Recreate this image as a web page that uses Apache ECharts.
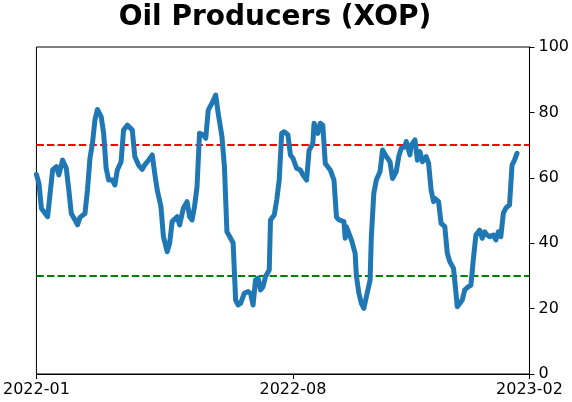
<!DOCTYPE html>
<html>
<head>
<meta charset="utf-8">
<script src="https://cdn.jsdelivr.net/npm/echarts@6/dist/echarts.min.js"></script>
<style>
  html, body { margin: 0; padding: 0; background: #fff; }
  #chart { width: 572px; height: 402px; }
</style>
</head>
<body>
<div id="chart"></div>
<script>
// axis range and the three labelled dates
const axisStart = '2022-01-14'
const axisEnd = '2023-02-14'
const tickDates = ['2022-01-14', '2022-08-08', '2023-02-14']
const yTicks = [0, 20, 40, 60, 80, 100]
const upperBand = 70
const lowerBand = 30

const dates = [
  '2022-01-14', '2022-01-16', '2022-01-18', '2022-01-20', '2022-01-23', '2022-01-25', '2022-01-27', '2022-01-30',
  '2022-02-01', '2022-02-04', '2022-02-07', '2022-02-09', '2022-02-11', '2022-02-14', '2022-02-16', '2022-02-18',
  '2022-02-22', '2022-02-24', '2022-02-26', '2022-02-28', '2022-03-02', '2022-03-04', '2022-03-07', '2022-03-09',
  '2022-03-11', '2022-03-13', '2022-03-16', '2022-03-18', '2022-03-20', '2022-03-23', '2022-03-25', '2022-03-28',
  '2022-04-01', '2022-04-03', '2022-04-06', '2022-04-09', '2022-04-11', '2022-04-14', '2022-04-17', '2022-04-19',
  '2022-04-21', '2022-04-24', '2022-04-26', '2022-04-29', '2022-05-01', '2022-05-03', '2022-05-07', '2022-05-09',
  '2022-05-12', '2022-05-15', '2022-05-17', '2022-05-19', '2022-05-21', '2022-05-23', '2022-05-25', '2022-05-28',
  '2022-05-30', '2022-06-01', '2022-06-04', '2022-06-07', '2022-06-09', '2022-06-12', '2022-06-14', '2022-06-16',
  '2022-06-19', '2022-06-21', '2022-06-23', '2022-06-25', '2022-06-27', '2022-06-30', '2022-07-03', '2022-07-05',
  '2022-07-07', '2022-07-09', '2022-07-11', '2022-07-13', '2022-07-15', '2022-07-17', '2022-07-20', '2022-07-21',
  '2022-07-24', '2022-07-26', '2022-07-28', '2022-07-30', '2022-08-01', '2022-08-04', '2022-08-06', '2022-08-08',
  '2022-08-11', '2022-08-14', '2022-08-16', '2022-08-19', '2022-08-21', '2022-08-24', '2022-08-25', '2022-08-28',
  '2022-08-30', '2022-09-01', '2022-09-03', '2022-09-07', '2022-09-10', '2022-09-12', '2022-09-14', '2022-09-18',
  '2022-09-19', '2022-09-20', '2022-09-24', '2022-09-27', '2022-09-28', '2022-09-30', '2022-10-02', '2022-10-04',
  '2022-10-06', '2022-10-09', '2022-10-10', '2022-10-12', '2022-10-14', '2022-10-17', '2022-10-19', '2022-10-22',
  '2022-10-25', '2022-10-27', '2022-10-30', '2022-11-01', '2022-11-03', '2022-11-06', '2022-11-07', '2022-11-10',
  '2022-11-11', '2022-11-14', '2022-11-16', '2022-11-18', '2022-11-20', '2022-11-23', '2022-11-25', '2022-11-27',
  '2022-11-29', '2022-11-30', '2022-12-03', '2022-12-05', '2022-12-08', '2022-12-10', '2022-12-12', '2022-12-15',
  '2022-12-17', '2022-12-18', '2022-12-20', '2022-12-22', '2022-12-24', '2022-12-27', '2022-12-29', '2022-12-31',
  '2023-01-02', '2023-01-05', '2023-01-07', '2023-01-09', '2023-01-11', '2023-01-13', '2023-01-16', '2023-01-18',
  '2023-01-20', '2023-01-22', '2023-01-24', '2023-01-26', '2023-01-29', '2023-01-31', '2023-02-02', '2023-02-04'
]

const values = [
  61, 58.3, 50.7, 49.6, 48.1, 55.2, 62.4, 63.4,
  60.9, 65.4, 62.9, 56.3, 49.1, 47.1, 45.6, 47.9,
  49.1, 56.3, 66, 70.5, 77.7, 80.9, 78.7, 73.6,
  62.9, 59.3, 59.3, 57.8, 62.4, 64.9, 74.6, 76.1,
  74.6, 66.5, 63.9, 62.6, 63.9, 65.4, 67, 61.4,
  56.3, 51.2, 42, 37.4, 40, 46.6, 48.1, 45.6,
  50.7, 52.7, 48.1, 47.1, 51.2, 57.3, 73.6, 73.1,
  72.1, 80.7, 82.8, 85.3, 79.7, 72.6, 63.4, 43.5,
  41.5, 40, 22.6, 21.1, 21.6, 24.7, 25.2, 24.7,
  21.1, 28.8, 29.3, 25.7, 26.7, 29.8, 31.8, 47.1,
  48.6, 53.2, 59.3, 73.6, 74.1, 73.1, 67, 66,
  62.9, 62.4, 60.9, 59.3, 68.4, 70.5, 76.7, 73.6,
  76.7, 76.1, 64.4, 62.4, 59.3, 48, 47.1, 46.6,
  41.5, 45, 41, 36.9, 30, 24.7, 21.6, 20.1,
  23.6, 28.7, 42, 55.3, 59.3, 61.9, 68.5, 66.5,
  64.9, 59.8, 61.9, 66.5, 69, 69.5, 71.1, 67,
  70, 71.6, 65.4, 68, 64.9, 66.5, 64.4, 56.3,
  52.7, 53.7, 52.7, 46.1, 45.1, 36.9, 34.4, 32.3,
  24.7, 20.6, 21.6, 22.6, 25.7, 26.7, 27.2, 35.4,
  42.5, 44, 41.5, 43.5, 42.5, 42, 42.5, 41,
  43.5, 42, 49.1, 50.7, 51.7, 63.9, 65.4, 67.5
]

function toTime(s) {
  const p = s.split('-').map(Number)
  return new Date(p[0], p[1] - 1, p[2]).getTime()
}

function monthLabel(v) {
  const d = new Date(v)
  const m = d.getMonth() + 1
  return d.getFullYear() + '-' + (m < 10 ? '0' + m : m)
}

const font = 'DejaVu Sans'
const chart = echarts.init(document.getElementById('chart'))
const tickTimes = tickDates.map(toTime)

chart.setOption({
  animation: false,
  title: {
    text: 'Oil Producers (XOP)',
    left: 270,
    textAlign: 'center',
    top: -1,
    textStyle: { fontFamily: font, fontWeight: 'bold', fontSize: 28, color: '#000' }
  },
  grid: {
    left: 35.5, right: 40, top: 47, bottom: 28,
    show: true, borderColor: '#000', borderWidth: 1, backgroundColor: 'transparent'
  },
  xAxis: {
    type: 'value',
    min: toTime(axisStart),
    max: toTime(axisEnd),
    splitLine: { show: false },
    axisLine: { lineStyle: { color: '#000', width: 1 } },
    axisTick: {
      show: true, length: 5, lineStyle: { color: '#000' },
      customValues: tickTimes
    },
    axisLabel: {
      customValues: tickTimes,
      formatter: monthLabel,
      fontFamily: font, fontSize: 16, color: '#000', margin: 8,
      showMinLabel: true, showMaxLabel: true, hideOverlap: false
    }
  },
  yAxis: {
    type: 'value',
    position: 'right',
    min: yTicks[0],
    max: yTicks[yTicks.length - 1],
    interval: 20,
    splitLine: { show: false },
    axisLine: { show: true, lineStyle: { color: '#000', width: 1 } },
    axisTick: { show: true, length: 5, lineStyle: { color: '#000' } },
    axisLabel: { fontFamily: font, fontSize: 16, color: '#000', margin: 9 }
  },
  series: [
    {
      type: 'line',
      data: dates.map((d, i) => [toTime(d), values[i]]),
      showSymbol: false,
      symbol: 'none',
      lineStyle: { color: '#1f77b4', width: 5, cap: 'round', join: 'round' },
      z: 3,
      markLine: {
        silent: true,
        symbol: 'none',
        label: { show: false },
        z: 2,
        data: [
          { yAxis: upperBand, lineStyle: { color: '#ff0000', type: [7.4, 3.2], width: 2 } },
          { yAxis: lowerBand, lineStyle: { color: '#008000', type: [7.4, 3.2], width: 2 } }
        ]
      }
    }
  ]
})
</script>
</body>
</html>
